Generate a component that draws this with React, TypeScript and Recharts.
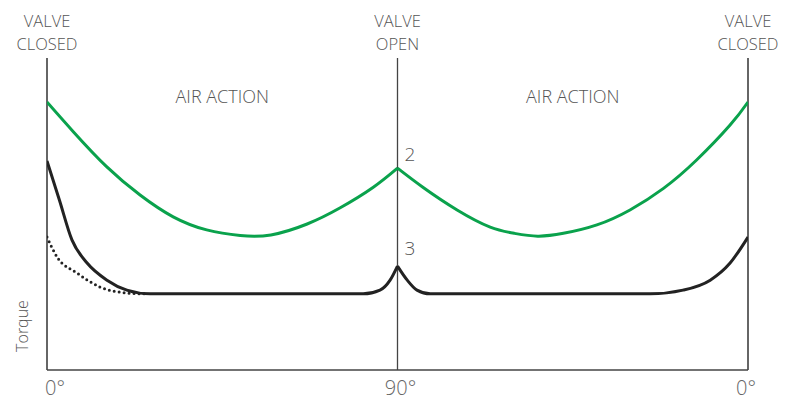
import {
  ComposedChart,
  Line,
  XAxis,
  YAxis,
  ReferenceLine,
  ReferenceArea,
  ReferenceDot,
} from "recharts";

type Pt = { x: number; y: number };

// angle in degrees (0 -> 90 open -> 180 closed again), torque in arbitrary units
const greenLeft: Pt[] = [
  { x: 0, y: 85.9 },
  { x: 6.75, y: 76.4 },
  { x: 15.3, y: 65.2 },
  { x: 23.9, y: 56.1 },
  { x: 32.4, y: 49.1 },
  { x: 41.0, y: 44.9 },
  { x: 49.6, y: 43.1 },
  { x: 57.5, y: 43.3 },
  { x: 66.8, y: 46.8 },
  { x: 75.3, y: 52.0 },
  { x: 83.7, y: 58.5 },
  { x: 90, y: 64.7 },
];

const greenRight: Pt[] = [
  { x: 90, y: 64.7 },
  { x: 96.6, y: 58.5 },
  { x: 105.3, y: 51.3 },
  { x: 113.8, y: 45.8 },
  { x: 120, y: 43.8 },
  { x: 126, y: 42.9 },
  { x: 132.6, y: 43.8 },
  { x: 141.2, y: 46.5 },
  { x: 149.7, y: 51.3 },
  { x: 158.3, y: 58.2 },
  { x: 166.8, y: 67.3 },
  { x: 175.4, y: 78.5 },
  { x: 180, y: 85.9 },
];

const blackLeft: Pt[] = [
  { x: 0, y: 67.0 },
  { x: 3.2, y: 54.4 },
  { x: 6.4, y: 41.7 },
  { x: 10.3, y: 34.3 },
  { x: 15.4, y: 28.8 },
  { x: 20.5, y: 25.6 },
  { x: 26.5, y: 24.4 },
  { x: 81.2, y: 24.4 },
  { x: 85.5, y: 25.6 },
  { x: 88.1, y: 28.8 },
  { x: 90, y: 33.3 },
];

const blackRight: Pt[] = [
  { x: 90, y: 33.3 },
  { x: 92.5, y: 28.8 },
  { x: 95.0, y: 25.6 },
  { x: 98.4, y: 24.4 },
  { x: 154.9, y: 24.4 },
  { x: 163.3, y: 25.6 },
  { x: 170.3, y: 28.8 },
  { x: 175.4, y: 34.3 },
  { x: 180, y: 42.6 },
];

const dotted: Pt[] = [
  { x: 0, y: 42.6 },
  { x: 2.6, y: 36.2 },
  { x: 7.7, y: 31.1 },
  { x: 13.6, y: 26.6 },
  { x: 20.5, y: 24.7 },
  { x: 25.7, y: 24.4 },
];

const xTicks = [0, 90, 180];
const xTickLabels = ["0°", "90°", "0°"];

const FONT = "'Open Sans', Lato, sans-serif";
const TEXT = "#555";
const GREEN = "#0aa24c";
const BLACK = "#222";

function ValveLabel(props: any) {
  const { viewBox, lines, torque } = props;
  const cx = viewBox.x;
  const top = viewBox.y;
  return (
    <g>
      <text x={cx} y={top - 31} textAnchor="middle" fontFamily={FONT} fontWeight={300} fontSize={16.5} fill={TEXT}>
        {lines[0]}
      </text>
      <text x={cx} y={top - 8.5} textAnchor="middle" fontFamily={FONT} fontWeight={300} fontSize={16.5} fill={TEXT}>
        {lines[1]}
      </text>
      {torque && (
        <text
          x={cx - 19}
          y={top + 268}
          transform={`rotate(-90 ${cx - 19} ${top + 268})`}
          textAnchor="middle"
          fontFamily={FONT}
          fontWeight={300}
          fontSize={16}
          fill={TEXT}
        >
          Torque
        </text>
      )}
    </g>
  );
}

function AreaTitle(props: any) {
  const { viewBox } = props;
  return (
    <text
      x={viewBox.x + viewBox.width / 2}
      y={viewBox.y + 45}
      textAnchor="middle"
      fontFamily={FONT}
      fontWeight={300}
      fontSize={18}
      fill={TEXT}
    >
      AIR ACTION
    </text>
  );
}

function PointNum(props: any) {
  const { viewBox, value, dy } = props;
  const x = viewBox.x + viewBox.width / 2;
  const y = viewBox.y + viewBox.height / 2;
  return (
    <text x={x + 7} y={y + dy} fontFamily={FONT} fontWeight={300} fontSize={19} fill={TEXT}>
      {value}
    </text>
  );
}

function DegTick(props: any) {
  const { x, y, index } = props;
  const anchor = index === 0 ? "start" : "middle";
  const dx = index === 0 ? -2 : index === 1 ? 3 : -2;
  return (
    <text x={x + dx} y={y + 17} textAnchor={anchor} fontFamily={FONT} fontWeight={300} fontSize={20} fill="#666">
      {xTickLabels[index]}
    </text>
  );
}

export default function App() {
  return (
    <div style={{ position: "absolute", left: 0, top: 0, background: "#fff" }}>
      <ComposedChart width={797} height={401} margin={{ top: 58, right: 49, left: 47, bottom: 0 }}>
        <XAxis
          type="number"
          dataKey="x"
          domain={[0, 180]}
          ticks={xTicks}
          tick={<DegTick />}
          tickLine={false}
          axisLine={{ stroke: "#444", strokeWidth: 1.5 }}
          height={31}
          allowDataOverflow
        />
        <YAxis type="number" domain={[0, 100]} hide />

        <ReferenceArea x1={0} x2={90} y1={0} y2={100} fillOpacity={0} strokeOpacity={0} label={<AreaTitle />} />
        <ReferenceArea x1={90} x2={180} y1={0} y2={100} fillOpacity={0} strokeOpacity={0} label={<AreaTitle />} />

        <ReferenceLine x={0} stroke="#333" strokeWidth={1.5} label={<ValveLabel lines={["VALVE", "CLOSED"]} torque />} />
        <ReferenceLine x={90} stroke="#444" strokeWidth={1.3} label={<ValveLabel lines={["VALVE", "OPEN"]} />} />
        <ReferenceLine x={180} stroke="#333" strokeWidth={1.5} label={<ValveLabel lines={["VALVE", "CLOSED"]} />} />

        <Line data={greenLeft} dataKey="y" type="natural" stroke={GREEN} strokeWidth={3} dot={false} isAnimationActive={false} />
        <Line data={greenRight} dataKey="y" type="natural" stroke={GREEN} strokeWidth={3} dot={false} isAnimationActive={false} />
        <Line data={blackLeft} dataKey="y" type="monotone" stroke={BLACK} strokeWidth={3} dot={false} isAnimationActive={false} />
        <Line data={blackRight} dataKey="y" type="monotone" stroke={BLACK} strokeWidth={3} dot={false} isAnimationActive={false} />
        <Line
          data={dotted}
          dataKey="y"
          type="monotone"
          stroke={BLACK}
          strokeWidth={3}
          strokeDasharray="0 5"
          strokeLinecap="round"
          dot={false}
          isAnimationActive={false}
        />

        <ReferenceDot x={90} y={64.7} r={0} fillOpacity={0} strokeOpacity={0} label={<PointNum value="2" dy={-7} />} />
        <ReferenceDot x={90} y={33.3} r={0} fillOpacity={0} strokeOpacity={0} label={<PointNum value="3" dy={-11} />} />
      </ComposedChart>
    </div>
  );
}
